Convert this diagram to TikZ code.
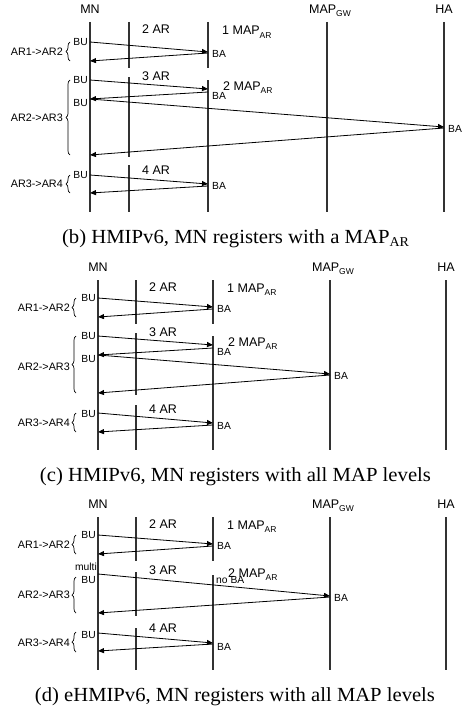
\documentclass[tikz,border=0pt]{standalone}
\usepackage{fontspec}
\usepackage{graphicx}
\setmainfont{Liberation Serif}
\setsansfont{Liberation Sans}
\usetikzlibrary{arrows.meta,decorations.pathreplacing}
\newcommand\lowsub[1]{\raisebox{-3pt}{\fontsize{8.5}{9}\selectfont #1}}
\newcommand\capsub[1]{\raisebox{-3pt}{\fontsize{13.5}{14}\selectfont #1}}
\begin{document}
\begin{tikzpicture}[x=1pt,y=-1pt,
  life/.style={line width=1.1pt,draw=black!80},
  msg/.style={line width=0.8pt,-{Triangle[length=6pt,width=5pt]}},
  hdr/.style={font=\sffamily\fontsize{12.5}{14}\selectfont,inner sep=0pt},
  lbl/.style={font=\sffamily\fontsize{10.3}{11}\selectfont,inner sep=0pt},
  trans/.style={font=\sffamily\fontsize{10.8}{11}\selectfont,inner sep=0pt,anchor=east},
  captext/.style={font=\rmfamily\fontsize{20}{22}\selectfont,inner sep=0pt},
  brc/.style={decorate,decoration={brace,amplitude=4pt},line width=0.7pt}]
\useasboundingbox (0,0) rectangle (462,709);

%%%%%%%%%%%%%%%% panel (b)
\node[hdr,anchor=base] (bMN) at (90,14) {MN};
\node[hdr,anchor=base] (bGW) at (330,14) {MAP\lowsub{GW}};
\node[hdr,anchor=base] (bHA) at (444,14) {HA};
\coordinate (bMNt) at (90,22);  \coordinate (bMNb) at (90,212);
\coordinate (bA1t) at (129,22); \coordinate (bA1b) at (129,68);
\coordinate (bA2t) at (129,77); \coordinate (bA2b) at (129,157);
\coordinate (bA3t) at (129,165);\coordinate (bA3b) at (129,212);
\coordinate (bM1t) at (208,22); \coordinate (bM1b) at (208,68);
\coordinate (bM2t) at (208,80); \coordinate (bM2b) at (208,212);
\coordinate (bGt) at (327,22);  \coordinate (bGb) at (327,212);
\coordinate (bHt) at (444,22);  \coordinate (bHb) at (444,212);
\draw[life] (bMNt)--(bMNb) (bA1t)--(bA1b) (bA2t)--(bA2b) (bA3t)--(bA3b)
  (bM1t)--(bM1b) (bM2t)--(bM2b) (bGt)--(bGb) (bHt)--(bHb);
\node[hdr,anchor=base west] (b2AR) at (142,34) {2 AR};
\node[hdr,anchor=base west] (b1MAP) at (222,35) {1 MAP\lowsub{AR}};
\node[hdr,anchor=base west] (b3AR) at (142,80) {3 AR};
\node[hdr,anchor=base west] (b2MAP) at (223,90) {2 MAP\lowsub{AR}};
\node[hdr,anchor=base west] (b4AR) at (142,174) {4 AR};
% stage 1
\node[lbl,anchor=east] (bBU1) at (88,42) {BU};
\coordinate (bm1a) at (90,42);  \coordinate (bm1b) at (208,52);
\coordinate (bm2a) at (208,53); \coordinate (bm2b) at (90,61);
\draw[msg] (bm1a)--(bm1b); \draw[msg] (bm2a)--(bm2b);
\node[lbl,anchor=west] (bBA1) at (212,54) {BA};
\coordinate (bb1a) at (70,61); \coordinate (bb1b) at (70,42);
\draw[brc] (bb1a)--(bb1b);
\node[trans] (bL1) at (63,52) {AR1->AR2};
% stage 2
\node[lbl,anchor=east] (bBU2) at (88,80) {BU};
\coordinate (bm3a) at (90,80);  \coordinate (bm3b) at (208,89);
\coordinate (bm4a) at (208,92); \coordinate (bm4b) at (90,99);
\coordinate (bm5a) at (90,99);  \coordinate (bm5b) at (444,127);
\coordinate (bm6a) at (444,128);\coordinate (bm6b) at (90,155);
\draw[msg] (bm3a)--(bm3b); \draw[msg] (bm4a)--(bm4b);
\draw[msg] (bm5a)--(bm5b); \draw[msg] (bm6a)--(bm6b);
\node[lbl,anchor=west] (bBA2) at (212,96) {BA};
\node[lbl,anchor=east] (bBU3) at (88,103) {BU};
\node[lbl,anchor=west] (bBA3) at (448,129) {BA};
\coordinate (bb2a) at (70,155); \coordinate (bb2b) at (70,80);
\draw[brc] (bb2a)--(bb2b);
\node[trans] (bL2) at (63,118) {AR2->AR3};
% stage 3
\node[lbl,anchor=east] (bBU4) at (88,175) {BU};
\coordinate (bm7a) at (90,175);  \coordinate (bm7b) at (208,184);
\coordinate (bm8a) at (208,186); \coordinate (bm8b) at (90,193);
\draw[msg] (bm7a)--(bm7b); \draw[msg] (bm8a)--(bm8b);
\node[lbl,anchor=west] (bBA4) at (212,186) {BA};
\coordinate (bb3a) at (70,193); \coordinate (bb3b) at (70,175);
\draw[brc] (bb3a)--(bb3b);
\node[trans] (bL3) at (63,184) {AR3->AR4};
\node[captext,anchor=base] (bcap) at (235.5,243) {\resizebox{347pt}{\height}{(b) HMIPv6, MN registers with a MAP\capsub{AR}}};

%%%%%%%%%%%%%%%% panel (c)
\node[hdr,anchor=base] (cMN) at (98,271) {MN};
\node[hdr,anchor=base] (cGW) at (333,271) {MAP\lowsub{GW}};
\node[hdr,anchor=base] (cHA) at (446,271) {HA};
\coordinate (cMNt) at (98,280);  \coordinate (cMNb) at (98,450);
\coordinate (cA1t) at (136,280); \coordinate (cA1b) at (136,324);
\coordinate (cA2t) at (136,333); \coordinate (cA2b) at (136,395);
\coordinate (cA3t) at (136,405); \coordinate (cA3b) at (136,450);
\coordinate (cM1t) at (213,280); \coordinate (cM1b) at (213,324);
\coordinate (cM2t) at (213,336); \coordinate (cM2b) at (213,450);
\coordinate (cGt) at (330,280);  \coordinate (cGb) at (330,450);
\coordinate (cHt) at (446,280);  \coordinate (cHb) at (446,450);
\draw[life] (cMNt)--(cMNb) (cA1t)--(cA1b) (cA2t)--(cA2b) (cA3t)--(cA3b)
  (cM1t)--(cM1b) (cM2t)--(cM2b) (cGt)--(cGb) (cHt)--(cHb);
\node[hdr,anchor=base west] (c2AR) at (149,291) {2 AR};
\node[hdr,anchor=base west] (c1MAP) at (227,292) {1 MAP\lowsub{AR}};
\node[hdr,anchor=base west] (c3AR) at (149,336) {3 AR};
\node[hdr,anchor=base west] (c2MAP) at (228,346) {2 MAP\lowsub{AR}};
\node[hdr,anchor=base west] (c4AR) at (149,413) {4 AR};
% stage 1
\node[lbl,anchor=east] (cBU1) at (96,298) {BU};
\coordinate (cm1a) at (98,298);  \coordinate (cm1b) at (213,307);
\coordinate (cm2a) at (213,309); \coordinate (cm2b) at (98,317);
\draw[msg] (cm1a)--(cm1b); \draw[msg] (cm2a)--(cm2b);
\node[lbl,anchor=west] (cBA1) at (217,309) {BA};
\coordinate (cb1a) at (76,317); \coordinate (cb1b) at (76,298);
\draw[brc] (cb1a)--(cb1b);
\node[trans] (cL1) at (70,308) {AR1->AR2};
% stage 2
\node[lbl,anchor=east] (cBU2) at (96,336) {BU};
\coordinate (cm3a) at (98,336);  \coordinate (cm3b) at (213,345);
\coordinate (cm4a) at (213,348); \coordinate (cm4b) at (98,355);
\coordinate (cm5a) at (98,355);  \coordinate (cm5b) at (330,374);
\coordinate (cm6a) at (330,375); \coordinate (cm6b) at (98,393);
\draw[msg] (cm3a)--(cm3b); \draw[msg] (cm4a)--(cm4b);
\draw[msg] (cm5a)--(cm5b); \draw[msg] (cm6a)--(cm6b);
\node[lbl,anchor=west] (cBA2) at (217,352) {BA};
\node[lbl,anchor=east] (cBU3) at (96,359) {BU};
\node[lbl,anchor=west] (cBA3) at (334,376) {BA};
\coordinate (cb2a) at (76,393); \coordinate (cb2b) at (76,336);
\draw[brc] (cb2a)--(cb2b);
\node[trans] (cL2) at (70,367) {AR2->AR3};
% stage 3
\node[lbl,anchor=east] (cBU4) at (96,414) {BU};
\coordinate (cm7a) at (98,413);  \coordinate (cm7b) at (213,423);
\coordinate (cm8a) at (213,425); \coordinate (cm8b) at (98,432);
\draw[msg] (cm7a)--(cm7b); \draw[msg] (cm8a)--(cm8b);
\node[lbl,anchor=west] (cBA4) at (217,426) {BA};
\coordinate (cb3a) at (76,432); \coordinate (cb3b) at (76,413);
\draw[brc] (cb3a)--(cb3b);
\node[trans] (cL3) at (70,423) {AR3->AR4};
\node[captext,anchor=base] (ccap) at (235.5,481) {\resizebox{391pt}{\height}{(c) HMIPv6, MN registers with all MAP levels}};

%%%%%%%%%%%%%%%% panel (d)
\node[hdr,anchor=base] (dMN) at (98,508) {MN};
\node[hdr,anchor=base] (dGW) at (333,508) {MAP\lowsub{GW}};
\node[hdr,anchor=base] (dHA) at (446,508) {HA};
\coordinate (dMNt) at (98,517);  \coordinate (dMNb) at (98,670);
\coordinate (dA1t) at (136,517); \coordinate (dA1b) at (136,561);
\coordinate (dA2t) at (136,572); \coordinate (dA2b) at (136,616);
\coordinate (dA3t) at (136,628); \coordinate (dA3b) at (136,670);
\coordinate (dM1t) at (213,517); \coordinate (dM1b) at (213,561);
\coordinate (dM2t) at (213,575); \coordinate (dM2b) at (213,670);
\coordinate (dGt) at (330,517);  \coordinate (dGb) at (330,670);
\coordinate (dHt) at (446,517);  \coordinate (dHb) at (446,670);
\draw[life] (dMNt)--(dMNb) (dA1t)--(dA1b) (dA2t)--(dA2b) (dA3t)--(dA3b)
  (dM1t)--(dM1b) (dM2t)--(dM2b) (dGt)--(dGb) (dHt)--(dHb);
\node[hdr,anchor=base west] (d2AR) at (149,528) {2 AR};
\node[hdr,anchor=base west] (d1MAP) at (227,529) {1 MAP\lowsub{AR}};
\node[hdr,anchor=base west] (d3AR) at (149,574) {3 AR};
\node[hdr,anchor=base west] (d2MAP) at (228,577) {2 MAP\lowsub{AR}};
\node[hdr,anchor=base west] (d4AR) at (149,632) {4 AR};
% stage 1
\node[lbl,anchor=east] (dBU1) at (96,535) {BU};
\coordinate (dm1a) at (98,535);  \coordinate (dm1b) at (213,544);
\coordinate (dm2a) at (213,546); \coordinate (dm2b) at (98,554);
\draw[msg] (dm1a)--(dm1b); \draw[msg] (dm2a)--(dm2b);
\node[lbl,anchor=west] (dBA1) at (217,546) {BA};
\coordinate (db1a) at (76,554); \coordinate (db1b) at (76,535);
\draw[brc] (db1a)--(db1b);
\node[trans] (dL1) at (70,545) {AR1->AR2};
% stage 2
\node[lbl,anchor=east] (dmulti) at (97,567) {multi};
\node[lbl,anchor=east] (dBU2) at (96,580) {BU};
\coordinate (dm3a) at (98,574);  \coordinate (dm3b) at (330,596);
\coordinate (dm4a) at (330,597); \coordinate (dm4b) at (98,613);
\draw[msg] (dm3a)--(dm3b); \draw[msg] (dm4a)--(dm4b);
\node[lbl,anchor=west] (dnoBA) at (216,580) {no BA};
\node[lbl,anchor=west] (dBA3) at (334,598) {BA};
\coordinate (db2a) at (76,613); \coordinate (db2b) at (76,577);
\draw[brc] (db2a)--(db2b);
\node[trans] (dL2) at (70,595) {AR2->AR3};
% stage 3
\node[lbl,anchor=east] (dBU4) at (96,635) {BU};
\coordinate (dm7a) at (98,633);  \coordinate (dm7b) at (213,643);
\coordinate (dm8a) at (213,644); \coordinate (dm8b) at (98,651);
\draw[msg] (dm7a)--(dm7b); \draw[msg] (dm8a)--(dm8b);
\node[lbl,anchor=west] (dBA4) at (217,647) {BA};
\coordinate (db3a) at (76,652); \coordinate (db3b) at (76,632);
\draw[brc] (db3a)--(db3b);
\node[trans] (dL3) at (70,643) {AR3->AR4};
\node[captext,anchor=base] (dcap) at (235,701) {\resizebox{400pt}{\height}{(d) eHMIPv6, MN registers with all MAP levels}};
\end{tikzpicture}
\end{document}
